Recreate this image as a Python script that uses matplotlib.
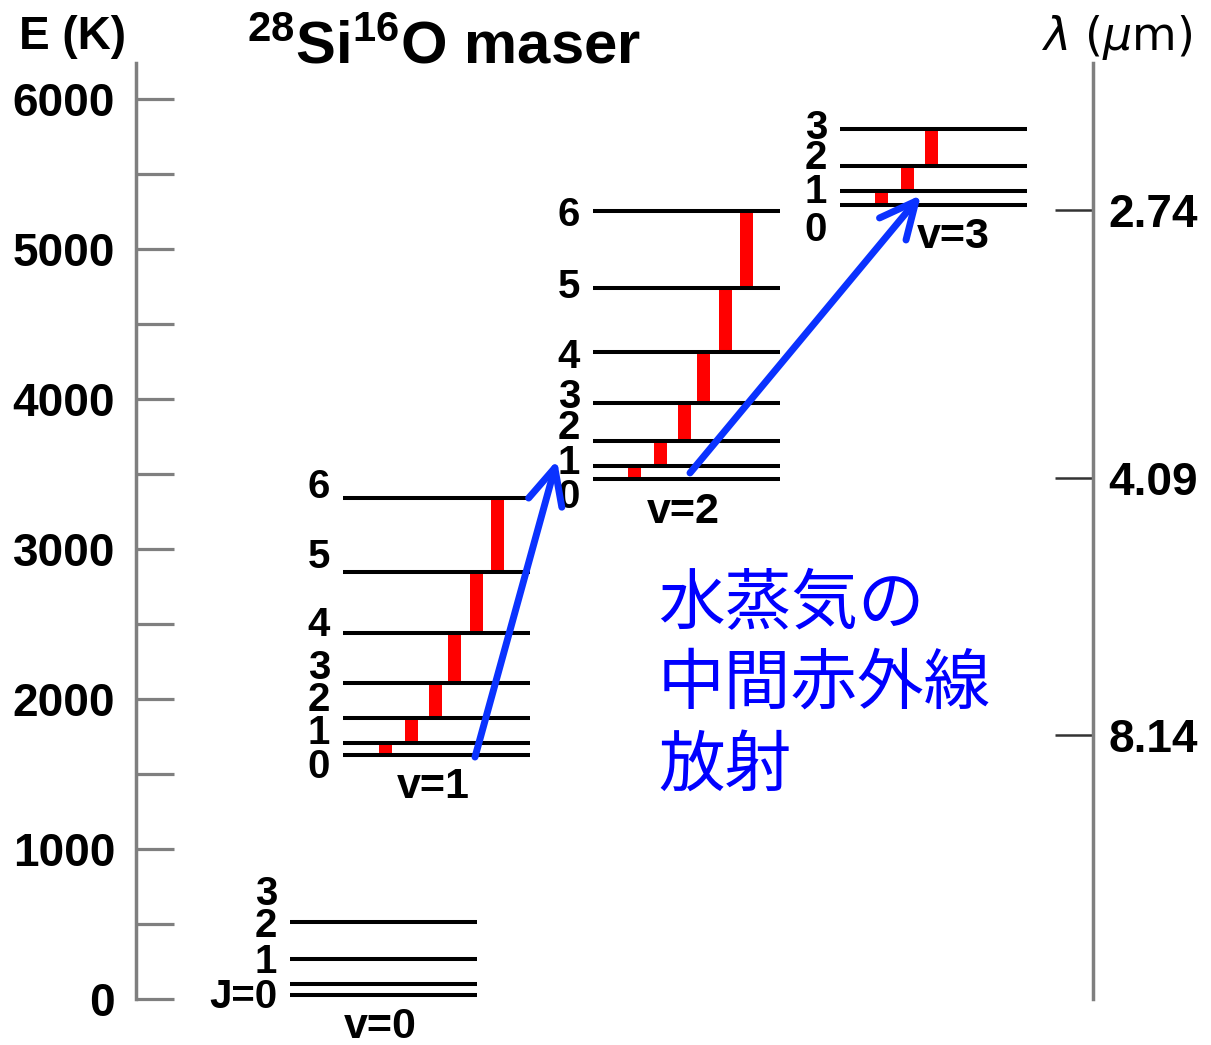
import matplotlib
matplotlib.use('Agg')
import matplotlib.pyplot as plt
from matplotlib.patches import FancyArrowPatch, ArrowStyle

plt.rcParams['font.family'] = ['Liberation Sans', 'DejaVu Sans']
plt.rcParams['mathtext.fontset'] = 'custom'
plt.rcParams['mathtext.rm'] = 'Liberation Sans:bold'
plt.rcParams['mathtext.bf'] = 'Liberation Sans:bold'
plt.rcParams['mathtext.it'] = 'Liberation Sans:italic'

# ---------------- data ----------------
vib_labels = ['v=0', 'v=1', 'v=2', 'v=3']
J_labels_v0 = ['J=0', '1', '2', '3']
J_labels_v1 = ['0', '1', '2', '3', '4', '5', '6']
J_labels_v2 = ['0', '1', '2', '3', '4', '5', '6']
J_labels_v3 = ['0', '1', '2', '3']
E_v0 = [27, 100, 267, 511]
E_v1 = [1627, 1707, 1873, 2107, 2440, 2847, 3340]
E_v2 = [3469, 3553, 3722, 3971, 4311, 4742, 5255]
E_v3 = [5293, 5387, 5553, 5798]
maser_bands = [False, True, True, True]          # red J->J+1 steps drawn
E_ticks = [0, 1000, 2000, 3000, 4000, 5000, 6000]
wavelength_labels = ['2.74', '4.09', '8.14']
wavelength_E = [5260, 3473, 1760]
pump_arrows = [(1, 0, 2, 1), (2, 0, 3, 1)]     # (v_from, J_from, v_to, J_to)
note_lines = ['水蒸気の', '中間赤外線', '放射']

levels = [E_v0, E_v1, E_v2, E_v3]
J_labels = [J_labels_v0, J_labels_v1, J_labels_v2, J_labels_v3]

# ---------------- layout ----------------
W, H = 1211, 1045
fig = plt.figure(figsize=(W / 100, H / 100), dpi=100)
ax = fig.add_axes([136 / W, 46 / H, (1093 - 136) / W, 936 / H])
ax.set_xlim(136, 1093)
ax.set_ylim(0, 6240)

ladder_left = [290, 343, 593, 840]
ladder_width = 187
bar_offsets = [42, 68, 92, 111, 133, 154]
label_E = [[13, 247, 487, 700],
           [1547, 1773, 1993, 2207, 2493, 2947, 3413],
           [3347, 3573, 3807, 4013, 4280, 4747, 5227],
           [5127, 5380, 5607, 5807]]
vlabel_pos = [(380, -187), (433, 1413), (683, 3247), (953, 5080)]
arrow_x = [(475, 557), (690, 921)]
arrow_dE = [(-14, 40), (38, -27)]

bold = dict(fontweight='bold', family=['Liberation Sans', 'DejaVu Sans'])

for i, E in enumerate(levels):
    x0 = ladder_left[i]
    ax.hlines(E, x0, x0 + ladder_width, color='black', lw=2.9, zorder=3,
              clip_on=False)
    if maser_bands[i]:
        for j in range(len(E) - 1):
            ax.bar(x0 + bar_offsets[j], E[j + 1] - E[j], bottom=E[j],
                   width=13, color='#ff0000', zorder=2, clip_on=False)
    for lab, ly in zip(J_labels[i], label_E[i]):
        ax.text(x0 - 13, ly, lab, ha='right', va='center', fontsize=29,
                clip_on=False, **bold)
    vx, vy = vlabel_pos[i]
    ax.text(vx, vy, vib_labels[i], ha='center', va='center', fontsize=31,
            clip_on=False, **bold)

style = ArrowStyle('->', head_length=1.3, head_width=0.62)
for (vf, jf, vt, jt), (xa, xb), (da, db) in zip(pump_arrows, arrow_x, arrow_dE):
    arr = FancyArrowPatch((xa, levels[vf][jf] + da), (xb, levels[vt][jt] + db),
                          arrowstyle=style, mutation_scale=20, lw=5,
                          color='#0a32ff', shrinkA=0, shrinkB=0,
                          capstyle='round', joinstyle='round', zorder=5,
                          clip_on=False)
    ax.add_patch(arr)

note_E = [2625, 2093, 1547]
for line, ny in zip(note_lines, note_E):
    ax.text(658, ny, line, ha='left', va='center', fontsize=48,
            color='#0000ff', family=['Noto Sans CJK JP', 'DejaVu Sans'],
            clip_on=False)

# left axis
for s in ['top', 'right', 'bottom']:
    ax.spines[s].set_visible(False)
ax.spines['left'].set_color('#7f7f7f')
ax.spines['left'].set_linewidth(2.5)
ax.set_xticks([])
ax.set_yticks(E_ticks)
ax.set_yticks([500, 1500, 2500, 3500, 4500, 5500], minor=True)
ax.tick_params(axis='y', which='both', direction='in', length=27.5,
               width=2.3, color='#7f7f7f', pad=15)
ax.tick_params(axis='y', which='major', labelsize=33)
for t in ax.get_yticklabels():
    t.set_fontweight('bold')
ax.get_yaxis().get_major_ticks()[0].tick1line.set_color('#111111')

# right axis
ax2 = ax.twinx()
ax2.set_ylim(ax.get_ylim())
for s in ['top', 'left', 'bottom']:
    ax2.spines[s].set_visible(False)
ax2.spines['right'].set_color('#7f7f7f')
ax2.spines['right'].set_linewidth(2.5)
ax2.set_yticks(wavelength_E)
ax2.set_yticklabels(wavelength_labels)
ax2.tick_params(axis='y', direction='in', length=27.5, width=1.8,
                color='#333333', pad=11, labelsize=33)
for t in ax2.get_yticklabels():
    t.set_fontweight('bold')

ax.text(72, 6413, 'E (K)', ha='center', va='center', fontsize=33,
        clip_on=False, **bold)
ax.text(247, 6240, r'$^{28}$Si$^{16}$O maser', ha='left', va='baseline',
        fontsize=43, clip_on=False, **bold)
ax.text(1117, 6413, r'$\lambda$ ($\mu$m)', ha='center', va='center',
        fontsize=33, family=['DejaVu Sans'], math_fontfamily='dejavusans',
        clip_on=False)

fig.savefig('out.png', dpi=100)
